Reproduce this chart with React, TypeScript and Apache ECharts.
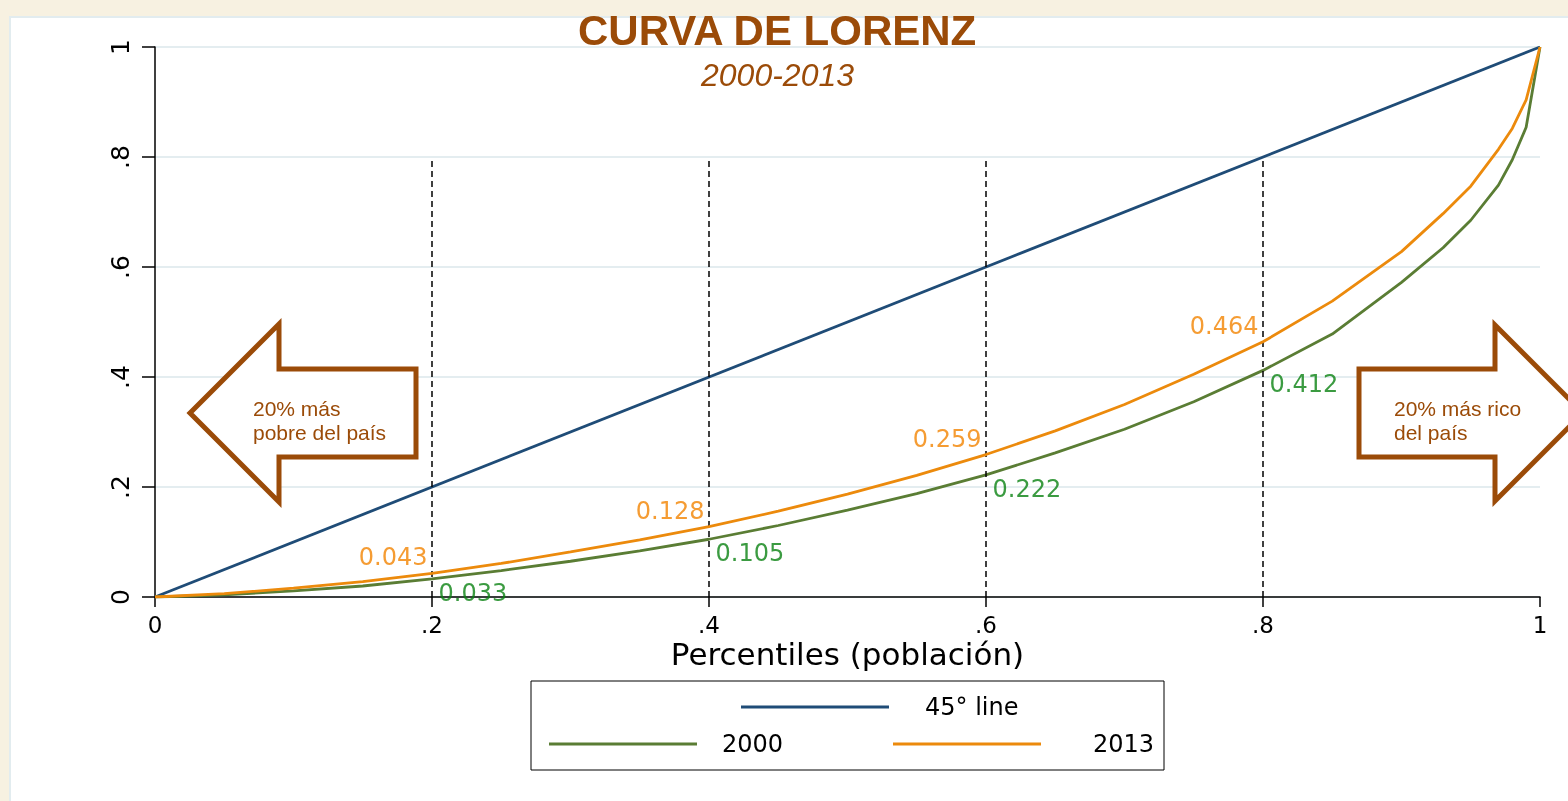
import React, { useEffect, useRef } from "react";
import * as echarts from "echarts";

const pct = [0, 0.05, 0.1, 0.15, 0.2, 0.25, 0.3, 0.35, 0.4, 0.45, 0.5, 0.55, 0.6, 0.65, 0.7, 0.75, 0.8, 0.85, 0.9, 0.93, 0.95, 0.97, 0.98, 0.99, 1];
const lorenz2000 = [0, 0.004, 0.011, 0.02, 0.033, 0.048, 0.065, 0.084, 0.105, 0.13, 0.158, 0.188, 0.222, 0.262, 0.305, 0.355, 0.412, 0.478, 0.572, 0.635, 0.685, 0.749, 0.795, 0.854, 1];
const lorenz2013 = [0, 0.006, 0.016, 0.028, 0.043, 0.061, 0.082, 0.104, 0.128, 0.156, 0.187, 0.221, 0.259, 0.302, 0.35, 0.405, 0.464, 0.538, 0.628, 0.697, 0.747, 0.814, 0.852, 0.904, 1];
const equality = [0, 1];

const cutoffs = [0.2, 0.4, 0.6, 0.8];
const cutoffTop = 0.8;
const marks2000 = [0.033, 0.105, 0.222, 0.412];
const marks2013 = [0.043, 0.128, 0.259, 0.464];

const xTickLabels = ["0", ".2", ".4", ".6", ".8", "1"];
const yTickLabels = ["0", ".2", ".4", ".6", ".8", "1"];

const seriesNames = ["45° line", "2000", "2013"];
const titleText = "CURVA DE LORENZ";
const subtitleText = "2000-2013";
const xAxisTitle = "Percentiles (población)";
const leftNote = "20% más\npobre del país";
const rightNote = "20% más rico\ndel país";

const BLUE = "#1f4c77";
const GREEN = "#5a7d34";
const ORANGE = "#ec8a0c";
const LBL_GREEN = "#0a8212";
const LBL_ORANGE = "#f28300";
const BROWN = "#9b4b08";
const FONT = "DejaVu Sans";

export default function App() {
  const ref = useRef<HTMLDivElement>(null);
  useEffect(() => {
    if (!ref.current) return;
    const chart = echarts.init(ref.current, null, { renderer: "svg" });
    const legendText = (pad: number) => ({
      fontFamily: FONT,
      fontSize: 24,
      lineHeight: 24,
      color: "#000",
      padding: [0, 0, 0, pad],
    });
    const option: any = {
      animation: false,
      title: [
        {
          text: titleText,
          left: 578,
          top: 9,
          padding: 0,
          textStyle: { fontFamily: "Liberation Sans", fontWeight: "bold", fontSize: 42, color: BROWN },
        },
        {
          text: subtitleText,
          left: 701,
          top: 59,
          padding: 0,
          textStyle: { fontFamily: "Liberation Sans", fontStyle: "italic", fontWeight: "normal", fontSize: 32, color: BROWN },
        },
      ],
      grid: { left: 155, right: 28, top: 47, bottom: 204, containLabel: false },
      legend: [
        {
          data: [seriesNames[0]],
          left: 741,
          top: 695,
          padding: 0,
          icon: "rect",
          itemWidth: 148,
          itemHeight: 3,
          selectedMode: false,
          textStyle: legendText(31),
        },
        {
          data: [seriesNames[1]],
          left: 549,
          top: 732,
          padding: 0,
          icon: "rect",
          itemWidth: 148,
          itemHeight: 3,
          selectedMode: false,
          textStyle: legendText(20),
        },
        {
          data: [seriesNames[2]],
          left: 893,
          top: 732,
          padding: 0,
          icon: "rect",
          itemWidth: 148,
          itemHeight: 3,
          selectedMode: false,
          textStyle: legendText(47),
        },
      ],
      xAxis: {
        type: "value",
        min: 0,
        max: 1,
        interval: 0.2,
        name: xAxisTitle,
        nameLocation: "middle",
        nameGap: 44,
        nameMoveOverlap: false,
        nameTextStyle: { fontFamily: FONT, fontSize: 31, lineHeight: 26, color: "#000" },
        axisLine: { show: true, onZero: false, lineStyle: { color: "#000", width: 1.5 } },
        axisTick: { show: true, length: 10, lineStyle: { color: "#000", width: 1.5 } },
        axisLabel: {
          margin: 18,
          fontFamily: FONT,
          fontSize: 23,
          lineHeight: 20,
          color: "#000",
          formatter: (v: number) => xTickLabels[Math.round(v * 5)],
        },
        splitLine: { show: false },
      },
      yAxis: {
        type: "value",
        min: 0,
        max: 1,
        interval: 0.2,
        axisLine: { show: true, onZero: false, lineStyle: { color: "#000", width: 1.5 } },
        axisTick: { show: true, length: 13, lineStyle: { color: "#000", width: 1.5 } },
        axisLabel: {
          rotate: 90,
          margin: 22,
          fontFamily: FONT,
          fontSize: 25,
          lineHeight: 25,
          color: "#000",
          formatter: (v: number) => yTickLabels[Math.round(v * 5)],
        },
        splitLine: { show: true, lineStyle: { color: "#e4edf0", width: 2 } },
      },
      series: [
        {
          name: seriesNames[0],
          type: "line",
          data: equality.map((v) => [v, v]),
          showSymbol: false,
          symbol: "none",
          color: BLUE,
          itemStyle: { color: BLUE },
          lineStyle: { color: BLUE, width: 2.8 },
          z: 3,
          markLine: {
            silent: true,
            symbol: ["none", "none"],
            label: { show: false },
            lineStyle: { color: "#000", type: [6, 4], width: 1.5 },
            data: cutoffs.map((c) => [{ coord: [c, 0] }, { coord: [c, cutoffTop] }]),
          },
        },
        {
          name: seriesNames[1],
          type: "line",
          data: pct.map((p, i) => [p, lorenz2000[i]]),
          showSymbol: false,
          symbol: "none",
          color: GREEN,
          itemStyle: { color: GREEN },
          lineStyle: { color: GREEN, width: 2.8 },
          z: 4,
        },
        {
          name: seriesNames[2],
          type: "line",
          data: pct.map((p, i) => [p, lorenz2013[i]]),
          showSymbol: false,
          symbol: "none",
          color: ORANGE,
          itemStyle: { color: ORANGE },
          lineStyle: { color: ORANGE, width: 2.8 },
          z: 5,
        },
        {
          name: "labels2000",
          type: "scatter",
          data: cutoffs.map((c, i) => [c, marks2000[i]]),
          symbolSize: 1,
          itemStyle: { color: "transparent" },
          silent: true,
          z: 6,
          label: {
            show: true,
            position: "right",
            distance: 6,
            offset: [0, 14],
            fontFamily: FONT,
            fontSize: 24,
            color: LBL_GREEN,
            formatter: (p: any) => p.value[1].toFixed(3),
          },
        },
        {
          name: "labels2013",
          type: "scatter",
          data: cutoffs.map((c, i) => [c, marks2013[i]]),
          symbolSize: 1,
          itemStyle: { color: "transparent" },
          silent: true,
          z: 6,
          label: {
            show: true,
            position: "left",
            distance: 4,
            offset: [0, -16],
            fontFamily: FONT,
            fontSize: 24,
            color: LBL_ORANGE,
            formatter: (p: any) => p.value[1].toFixed(3),
          },
        },
      ],
      graphic: [
        {
          type: "rect",
          z: -20,
          silent: true,
          shape: { x: 0, y: 0, width: 1568, height: 801 },
          style: { fill: "#f7f1e1" },
        },
        {
          type: "rect",
          z: -19,
          silent: true,
          shape: { x: 10, y: 17, width: 1570, height: 800 },
          style: { fill: "#ffffff", stroke: "#e2ecef", lineWidth: 2 },
        },
        {
          type: "rect",
          z: 10,
          silent: true,
          shape: { x: 531, y: 681, width: 633, height: 89 },
          style: { fill: "transparent", stroke: "#000", lineWidth: 1 },
        },
        {
          type: "polygon",
          z: 10,
          silent: true,
          shape: {
            points: [
              [190, 413], [279, 324], [279, 369], [416, 369], [416, 457], [279, 457], [279, 502],
            ],
          },
          style: { fill: "#ffffff", stroke: BROWN, lineWidth: 5, lineJoin: "miter" },
        },
        {
          type: "text",
          z: 11,
          silent: true,
          x: 253,
          y: 396,
          style: {
            text: leftNote,
            fontFamily: "Liberation Sans",
            fontSize: 21,
            lineHeight: 24,
            fill: BROWN,
          },
        },
        {
          type: "polygon",
          z: 10,
          silent: true,
          shape: {
            points: [
              [1359, 369], [1495, 369], [1495, 325], [1583, 413], [1495, 501], [1495, 457], [1359, 457],
            ],
          },
          style: { fill: "#ffffff", stroke: BROWN, lineWidth: 5, lineJoin: "miter" },
        },
        {
          type: "text",
          z: 11,
          silent: true,
          x: 1394,
          y: 396,
          style: {
            text: rightNote,
            fontFamily: "Liberation Sans",
            fontSize: 21,
            lineHeight: 24,
            fill: BROWN,
          },
        },
      ],
    };
    chart.setOption(option);
    return () => chart.dispose();
  }, []);
  return (
    <div
      ref={ref}
      style={{ position: "fixed", left: 0, top: 0, width: 1568, height: 801 }}
    />
  );
}
